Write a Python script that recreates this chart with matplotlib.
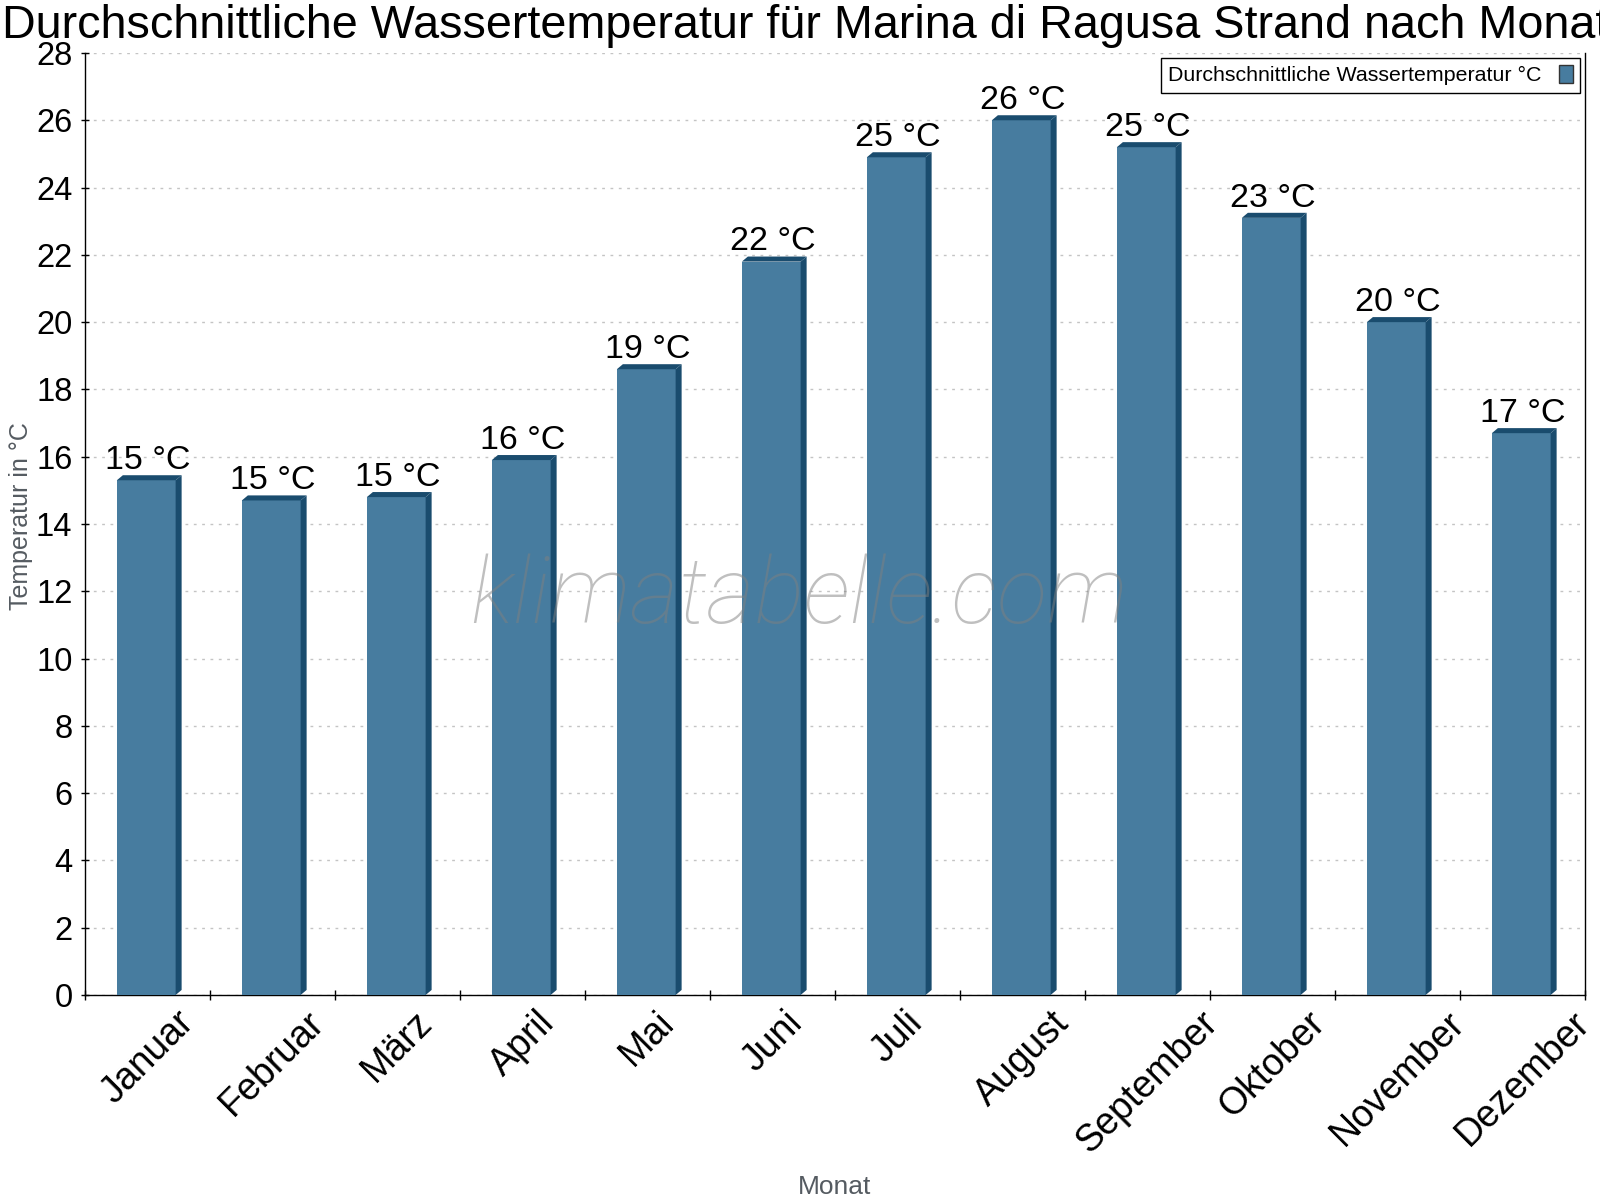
import matplotlib
matplotlib.use('Agg')
import matplotlib.pyplot as plt
from matplotlib.patches import Polygon, Patch
import numpy as np

plt.rcParams['font.family'] = ['Liberation Sans', 'DejaVu Sans']

months = ['Januar', 'Februar', 'März', 'April', 'Mai', 'Juni', 'Juli',
          'August', 'September', 'Oktober', 'November', 'Dezember']
water_temp = [15.3, 14.7, 14.8, 15.9, 18.6, 21.8, 24.9, 26.0, 25.2, 23.1, 20.0, 16.7]
y_ticks = list(range(0, 29, 2))

title = 'Durchschnittliche Wassertemperatur für Marina di Ragusa Strand nach Monat'
series_name = 'Durchschnittliche Wassertemperatur °C'

front = '#477c9f'
dark = '#1a4c6e'
label_grey = '#555b61'

fig = plt.figure(figsize=(16, 12), dpi=100)
ax = fig.add_axes([85/1600, 1-995/1200, 1500/1600, 942/1200])

x = np.arange(len(months))
w = 0.47
dx = 0.048   # depth of the fake 3d faces, in category units
dy = 0.15    # depth in data units
bars = ax.bar(x - 0.01, water_temp, width=w, color=front, zorder=3)
for b, v in zip(bars, water_temp):
    x0 = b.get_x()
    x1 = x0 + b.get_width()
    top = Polygon([(x0, v), (x0+dx, v+dy), (x1+dx, v+dy), (x1, v)],
                  closed=True, fc=dark, ec='none', zorder=3)
    side = Polygon([(x1, 0), (x1+dx, dy), (x1+dx, v+dy), (x1, v)],
                   closed=True, fc=dark, ec='none', zorder=3)
    ax.add_patch(top)
    ax.add_patch(side)

for i, v in zip(x, water_temp):
    ax.annotate(f'{round(v)} °C', (i, v), xytext=(0, 8), textcoords='offset points',
                ha='center', va='baseline', fontsize=24.5, zorder=4)

ax.set_xlim(-0.5, len(months) - 0.5)
ax.set_ylim(0, 28)
ax.set_yticks(y_ticks)
ax.yaxis.grid(True, linestyle=(0, (2, 4)), color='#c4c4c4', lw=1)
ax.set_axisbelow(True)

ax.set_xticks(np.arange(-0.5, len(months), 1))
ax.set_xticklabels([])
ax.set_xticks(x, labels=months, minor=True)
ax.tick_params(axis='x', which='major', direction='inout', length=6.5, width=1)
ax.tick_params(axis='x', which='minor', length=0, pad=7, labelsize=27, labelrotation=45)
ax.tick_params(axis='y', direction='inout', length=6, width=1, pad=6, labelsize=23.5)

ax.spines['top'].set_visible(False)
for s in ['left', 'bottom', 'right']:
    ax.spines[s].set_linewidth(1)
    ax.spines[s].set_color('black')

fig.text(0.503, 1-38/1200, title, ha='center', va='baseline', fontsize=33.7)
fig.text(21/1600, 1-516/1200, 'Temperatur in °C', rotation=90, ha='center', va='center',
         fontsize=18, color=label_grey)
fig.text(835/1600, 1-1194/1200, 'Monat', ha='center', va='baseline', fontsize=19, color=label_grey)

handles = [Patch(facecolor=front, edgecolor='#333333', lw=1)]
leg = fig.legend(handles, [series_name], loc='upper right',
                 bbox_to_anchor=(1580/1600, 1-58/1200), frameon=True, fancybox=False,
                 edgecolor='black', framealpha=1, fontsize=15.4, markerfirst=False,
                 handlelength=0.65, handleheight=0.85, handletextpad=0.8,
                 borderpad=0.35, borderaxespad=0)
leg.get_frame().set_linewidth(1)

fig.text(0.4994, 1-623/1200, 'klimatabelle.com', fontsize=67, family='Roboto',
         style='italic', weight='light', color='#808080', alpha=0.5,
         ha='center', va='baseline')

fig.savefig('out.png', dpi=100)
